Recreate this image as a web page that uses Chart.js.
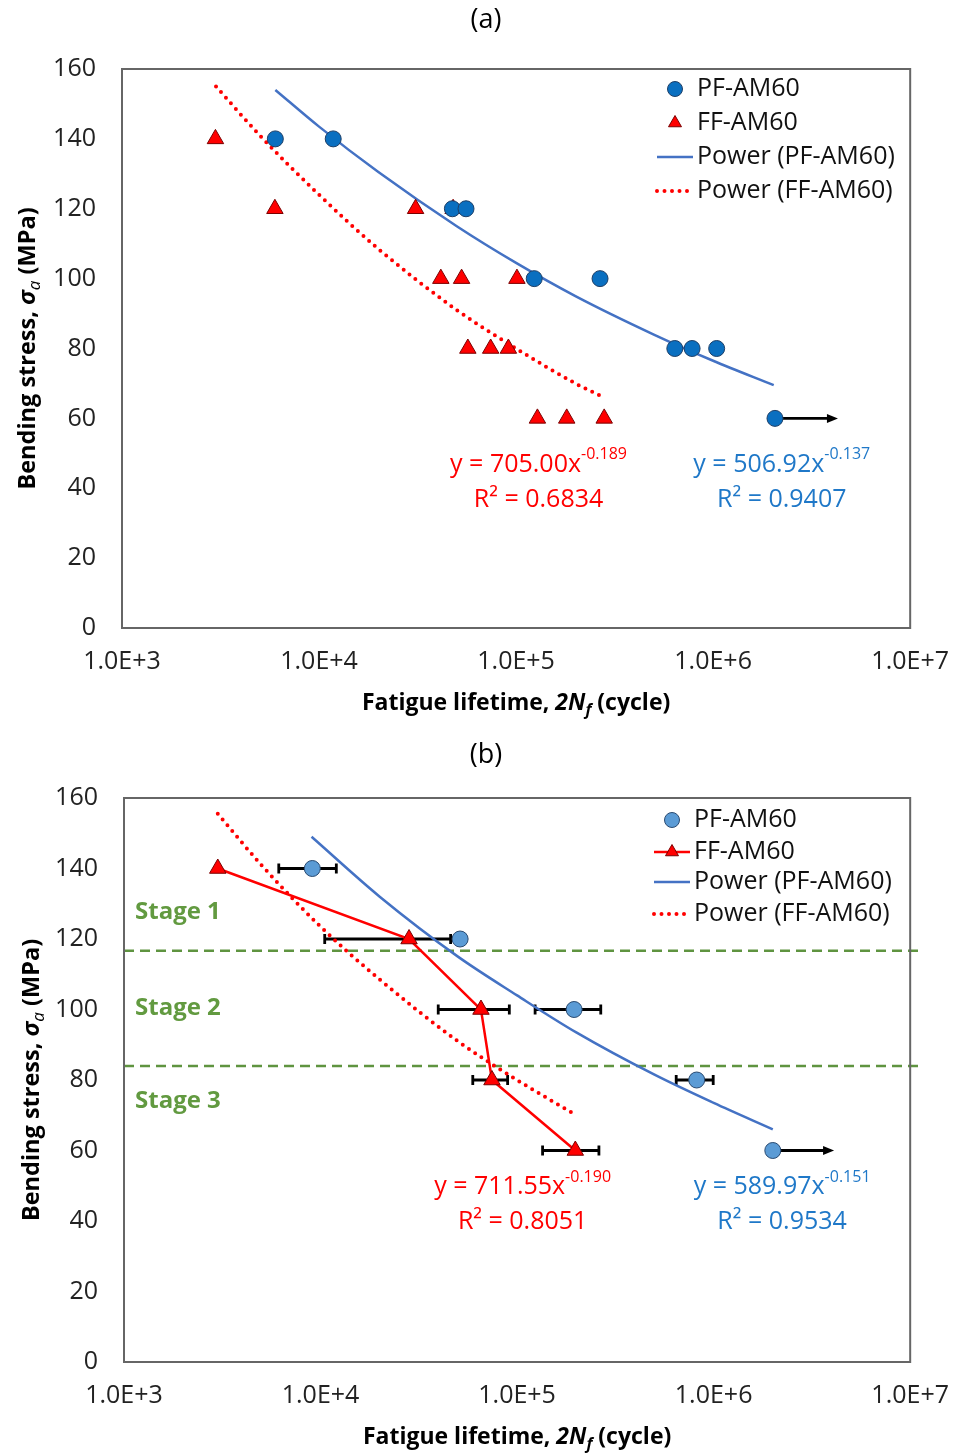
<!DOCTYPE html>
<html>
<head>
<meta charset="utf-8">
<script src="https://cdn.jsdelivr.net/npm/chart.js@4.4.1/dist/chart.umd.min.js"></script>
<style>
  body { margin: 0; background: #fff; }
  .box { width: 968px; height: 728px; }
</style>
</head>
<body>
<div class="box"><canvas id="chartA" width="968" height="728"></canvas></div>
<div class="box"><canvas id="chartB" width="968" height="728"></canvas></div>
<script>
// ---- (a) every specimen ----
const pfLifeA = [6000, 11800, 47500, 55700, 123600, 266700, 639000, 782000, 1042000, 2060000];
const pfStressA = [140, 140, 120, 120, 100, 100, 80, 80, 80, 60];
const ffLifeA = [2980, 5970, 30900, 47900, 41500, 52900, 101000, 56900, 74300, 91400, 128300, 180700, 280000];
const ffStressA = [140, 120, 120, 120, 100, 100, 100, 80, 80, 80, 60, 60, 60];
const pfRunoutEndA = 4300000;
// power trend lines
const pfFitLifeA = [6000, 10000, 20000, 50000, 100000, 200000, 500000, 1000000, 2030000];
const pfFitStressA = [154, 143.5, 130.5, 115, 104.5, 95, 84, 76.5, 69.5];
const ffFitLifeA = [3000, 5000, 10000, 20000, 50000, 100000, 200000, 280000];
const ffFitStressA = [155, 141, 124, 108.5, 91, 80, 70, 66];

// ---- (b) averages with scatter bands ----
const pfLifeB = [9080, 51300, 195000, 820000, 2000000];
const pfStressB = [140, 120, 100, 80, 60];
const pfErrB = [2950, 0, 71500, 175000, 0];
const ffLifeB = [3000, 28200, 65500, 74500, 197800];
const ffStressB = [140, 120, 100, 80, 60];
const ffErrB = [0, 17700, 25800, 15000, 63000];
const pfRunoutEndB = 4100000;
const pfFitLifeB = [9000, 20000, 50000, 100000, 200000, 500000, 1000000, 2000000];
const pfFitStressB = [149, 132, 115, 104, 93.5, 81.5, 73.5, 66];
const ffFitLifeB = [3000, 5000, 10000, 20000, 50000, 100000, 200000];
const ffFitStressB = [155.5, 141, 123.5, 108.5, 91, 80, 70];

const stageLines = [116.7, 84];
const stageNames = ['Stage 1', 'Stage 2', 'Stage 3'];
const stageY = [127.7, 100.4, 74];

const xTicks = [1e3, 1e4, 1e5, 1e6, 1e7];
const labels = ['PF-AM60', 'FF-AM60', 'Power (PF-AM60)', 'Power (FF-AM60)'];

// equation boxes: [coef, exponent, R2, colour, x, y]
const eqA = [
  ['705.00', '-0.189', '0.6834', '#ff0000', 130000, 46.7],
  ['506.92', '-0.137', '0.9407', '#1f78c8', 2230000, 46.7]
];
const eqB = [
  ['711.55', '-0.190', '0.8051', '#ff0000', 106700, 49.6],
  ['589.97', '-0.151', '0.9534', '#1f78c8', 2230000, 49.6]
];

const FONT = '"Open Sans", "DejaVu Sans", sans-serif';
const RED = '#ff0000';
const BLUE_LINE = '#4472c4';

function zip(xs, ys) {
  return xs.map((x, i) => ({ x: x, y: ys[i] }));
}

function richText(ctx, parts, x, y, rot, align) {
  ctx.save();
  ctx.translate(x, y);
  if (rot) ctx.rotate(rot);
  let w = 0;
  parts.forEach(p => { ctx.font = p[1]; w += ctx.measureText(p[0]).width; });
  let cx = align === 'left' ? 0 : -w / 2;
  ctx.textBaseline = 'middle';
  ctx.textAlign = 'left';
  parts.forEach(p => {
    ctx.font = p[1];
    ctx.fillText(p[0], cx, p[2] || 0);
    cx += ctx.measureText(p[0]).width;
  });
  ctx.restore();
}

function hbar(ctx, x1, x2, y) {
  ctx.beginPath();
  ctx.moveTo(x1, y); ctx.lineTo(x2, y);
  ctx.moveTo(x1, y - 5); ctx.lineTo(x1, y + 5);
  ctx.moveTo(x2, y - 5); ctx.lineTo(x2, y + 5);
  ctx.stroke();
}

function makePlugin(cfg) {
  return {
    id: 'decor' + cfg.tag,
    beforeDatasetsDraw(chart) {
      const ctx = chart.ctx, xs = chart.scales.x, ys = chart.scales.y, a = chart.chartArea;
      ctx.save();
      if (cfg.stages) {
        ctx.strokeStyle = '#5f9440';
        ctx.lineWidth = 2.5;
        ctx.setLineDash([10, 6]);
        stageLines.forEach(v => {
          const y = ys.getPixelForValue(v);
          ctx.beginPath(); ctx.moveTo(a.left, y); ctx.lineTo(a.right + 8, y); ctx.stroke();
        });
        ctx.setLineDash([]);
        ctx.fillStyle = '#629a40';
        stageNames.forEach((s, i) => {
          richText(ctx, [[s, 'bold 24px ' + FONT]], a.left + 11, ys.getPixelForValue(stageY[i]), 0, 'left');
        });
      }
      ctx.strokeStyle = '#000';
      ctx.lineWidth = 2.8;
      if (cfg.errors) {
        cfg.errors.forEach(e => {
          e.life.forEach((v, i) => {
            if (!e.err[i]) return;
            hbar(ctx, xs.getPixelForValue(v - e.err[i]), xs.getPixelForValue(v + e.err[i]), ys.getPixelForValue(e.stress[i]));
          });
        });
      }
      // run-out arrow
      const r = cfg.runout;
      const x1 = xs.getPixelForValue(r.from), x2 = xs.getPixelForValue(r.to), y = ys.getPixelForValue(r.y);
      ctx.beginPath(); ctx.moveTo(x1, y); ctx.lineTo(x2 - 8, y); ctx.stroke();
      ctx.fillStyle = '#000';
      ctx.beginPath(); ctx.moveTo(x2, y); ctx.lineTo(x2 - 11, y - 4.5); ctx.lineTo(x2 - 11, y + 4.5); ctx.closePath(); ctx.fill();
      ctx.restore();
    },
    afterDraw(chart) {
      const ctx = chart.ctx, xs = chart.scales.x, ys = chart.scales.y, a = chart.chartArea;
      ctx.save();
      // frame
      ctx.strokeStyle = '#666';
      ctx.lineWidth = 2;
      ctx.strokeRect(a.left, a.top, a.right - a.left, a.bottom - a.top);
      // panel letter
      ctx.fillStyle = '#000';
      richText(ctx, [[cfg.tag, '27px ' + FONT]], 486, cfg.tagY);
      // axis titles
      richText(ctx, [
        ['Bending stress, ', 'bold 23.5px ' + FONT],
        ['σ', 'bold italic 24px ' + FONT],
        ['a', 'italic 17px ' + FONT, 7],
        [' (MPa)', 'bold 23.5px ' + FONT]
      ], cfg.yTitleX, (a.top + a.bottom) / 2, -Math.PI / 2);
      richText(ctx, [
        ['Fatigue lifetime, ', 'bold 23px ' + FONT],
        ['2N', 'bold italic 23px ' + FONT],
        ['f', 'bold italic 16px ' + FONT, 7],
        [' (cycle)', 'bold 23px ' + FONT]
      ], (a.left + a.right) / 2, cfg.xTitleY);
      // equations
      cfg.eqs.forEach(q => {
        ctx.fillStyle = q[3];
        const cx = xs.getPixelForValue(q[4]), cy = ys.getPixelForValue(q[5]);
        richText(ctx, [['y = ' + q[0] + 'x', '25px ' + FONT], [q[1], '16px ' + FONT, -10]], cx, cy);
        richText(ctx, [['R² = ' + q[2], '25px ' + FONT]], cx, cy + 35);
      });
      // legend
      const L = cfg.legend;
      chart.data.datasets.forEach((ds, i) => {
        const y = L.rows[i];
        if (ds.showLine) {
          ctx.save();
          ctx.strokeStyle = ds.borderColor;
          ctx.lineWidth = ds.borderWidth;
          ctx.setLineDash(ds.borderDash || []);
          ctx.lineCap = ds.borderCapStyle || 'butt';
          ctx.beginPath(); ctx.moveTo(L.x - 18, y); ctx.lineTo(L.x + 18, y); ctx.stroke();
          ctx.restore();
        }
        if (ds.pointRadius > 0) {
          ctx.save();
          ctx.fillStyle = ds.pointBackgroundColor;
          ctx.strokeStyle = ds.pointBorderColor;
          ctx.lineWidth = 1;
          Chart.helpers.drawPoint(ctx, { pointStyle: ds.pointStyle, radius: 7.5, borderWidth: 1, rotation: 0 }, L.x, y);
          ctx.restore();
        }
        ctx.fillStyle = '#111';
        richText(ctx, [[ds.label, '25px ' + FONT]], L.x + 22, y, 0, 'left');
      });
      ctx.restore();
    }
  };
}

function makeChart(id, datasets, cfg) {
  return new Chart(document.getElementById(id), {
    type: 'scatter',
    data: { datasets: datasets },
    plugins: [makePlugin(cfg)],
    options: {
      responsive: false,
      animation: false,
      devicePixelRatio: 1,
      events: [],
      layout: { padding: { top: cfg.top, right: cfg.right, left: 0, bottom: 0 } },
      plugins: { legend: { display: false }, tooltip: { enabled: false } },
      scales: {
        x: {
          type: 'logarithmic',
          min: 1000,
          max: 1e7,
          grid: { display: false, drawTicks: false },
          border: { display: false },
          afterBuildTicks: s => { s.ticks = xTicks.map(v => ({ value: v })); },
          afterFit: s => { s.height = cfg.bottom; },
          ticks: {
            autoSkip: false,
            maxRotation: 0,
            padding: 19,
            color: '#222',
            font: { family: FONT, size: 25 },
            callback: v => Number(v).toExponential(1).toUpperCase()
          }
        },
        y: {
          min: 0,
          max: 160,
          grid: { display: false, drawTicks: false },
          border: { display: false },
          afterFit: s => { s.width = cfg.left; },
          ticks: {
            stepSize: 20,
            padding: 26,
            color: '#222',
            font: { family: FONT, size: 25 }
          }
        }
      }
    }
  });
}

function pointSet(label, life, stress, style, fill, edge, radius) {
  return {
    label: label, data: zip(life, stress), showLine: false,
    pointStyle: style, pointRadius: radius, pointBackgroundColor: fill,
    pointBorderColor: edge, pointBorderWidth: 1
  };
}

function fitSet(label, life, stress, color, dotted) {
  return {
    label: label, data: zip(life, stress), showLine: true, pointRadius: 0,
    borderColor: color, borderWidth: dotted ? 4 : 2.5,
    borderDash: dotted ? [0, 7.5] : [], borderCapStyle: dotted ? 'round' : 'butt',
    cubicInterpolationMode: 'monotone'
  };
}

makeChart('chartA', [
  pointSet(labels[0], pfLifeA, pfStressA, 'circle', '#0a6fc0', '#1f3f66', 8),
  pointSet(labels[1], ffLifeA, ffStressA, 'triangle', RED, '#7a0000', 9.5),
  fitSet(labels[2], pfFitLifeA, pfFitStressA, BLUE_LINE, false),
  fitSet(labels[3], ffFitLifeA, ffFitStressA, RED, true)
], {
  tag: '(a)', tagY: 20, top: 69, right: 52, left: 122, bottom: 100,
  yTitleX: 28, xTitleY: 703, eqs: eqA,
  runout: { from: pfLifeA[pfLifeA.length - 1], to: pfRunoutEndA, y: 60 },
  legend: { x: 675, rows: [89, 123, 157, 191] }
});

const ffLineB = pointSet(labels[1], ffLifeB, ffStressB, 'triangle', RED, '#7a0000', 9.5);
ffLineB.showLine = true;
ffLineB.borderColor = RED;
ffLineB.borderWidth = 2.5;

makeChart('chartB', [
  pointSet(labels[0], pfLifeB, pfStressB, 'circle', '#5b9bd5', '#2a4a70', 8),
  ffLineB,
  fitSet(labels[2], pfFitLifeB, pfFitStressB, BLUE_LINE, false),
  fitSet(labels[3], ffFitLifeB, ffFitStressB, RED, true)
], {
  tag: '(b)', tagY: 27, top: 70, right: 49, left: 124, bottom: 94,
  yTitleX: 32, xTitleY: 709, eqs: eqB, stages: true,
  errors: [
    { life: pfLifeB, stress: pfStressB, err: pfErrB },
    { life: ffLifeB, stress: ffStressB, err: ffErrB }
  ],
  runout: { from: pfLifeB[pfLifeB.length - 1], to: pfRunoutEndB, y: 60 },
  legend: { x: 672, rows: [92, 124, 154, 186] }
});
</script>
</body>
</html>
